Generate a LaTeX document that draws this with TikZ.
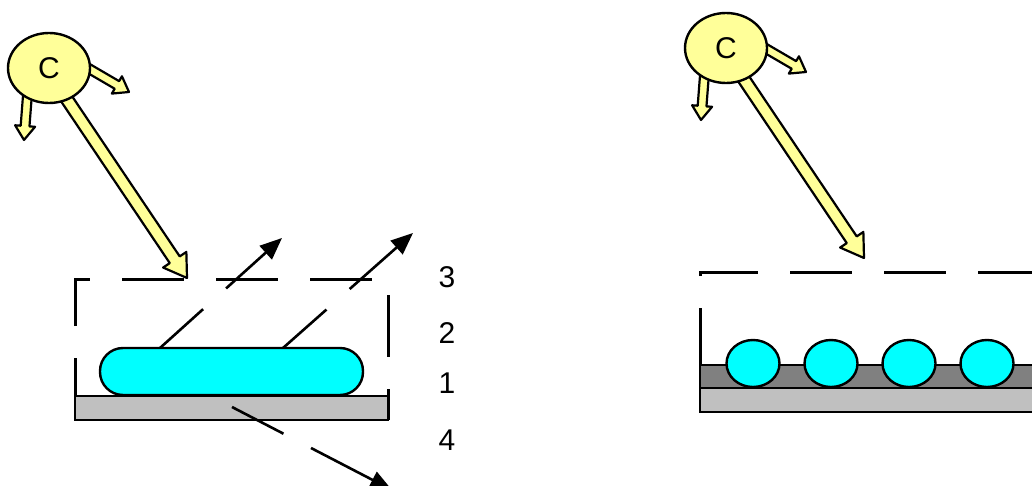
\documentclass[tikz,border=0pt]{standalone}
\usepackage{fontspec}
\setmainfont{Liberation Sans}
\usetikzlibrary{calc}
\usetikzlibrary{arrows.meta}
\usetikzlibrary{shapes.geometric}
\usetikzlibrary{backgrounds}

\definecolor{lampyellow}{HTML}{FFFF99}
\definecolor{filmcyan}{HTML}{00FFFF}
\definecolor{plategray}{HTML}{C0C0C0}
\definecolor{layergray}{HTML}{808080}

% outlined fat arrow: from, to, half shaft, half head, head length
\newcommand{\fatarrow}[5]{%
  \coordinate (fa) at ($(#2)!#5!(#1)$);
  \filldraw[ray] ($(#1)!#3!90:(#2)$) -- ($(fa)!#3!90:(#2)$) -- ($(fa)!#4!90:(#2)$) -- (#2)
    -- ($(fa)!#4!-90:(#2)$) -- ($(fa)!#3!-90:(#2)$) -- ($(#1)!#3!-90:(#2)$) -- cycle;
}

\begin{document}
\begin{tikzpicture} [x=.5pt, y=-.5pt,
  ray/.style={fill=lampyellow, draw=black, line width=1.1pt, line join=round},
  lamp/.style={ellipse, draw, fill=lampyellow, line width=1.2pt, minimum width=41pt, minimum height=35pt, inner sep=0pt, font=\fontsize{15}{18}\selectfont},
  cell/.style={line width=1.5pt, dash pattern=on 31pt off 16pt},
  emit/.style={line width=1.3pt, dash pattern=on 29pt off 15.5pt on 300pt, -{Triangle[length=11pt,width=9pt]}},
  num/.style={font=\fontsize{15}{18}\selectfont}]
\useasboundingbox (0,0) rectangle (1032,486);
\clip (0,0) rectangle (1032,486);

\node[lamp] (lampL) at (49,68) {C};
\node[lamp] (lampR) at (726,48) {C};

% rays leaving each lamp
\begin{pgfonlayer}{background}
\foreach \l in {lampL, lampR} {
  \coordinate (\l-a) at ($(\l)+(13,24)$);
  \coordinate (\l-b) at ($(\l)+(138,210)$);
  \coordinate (\l-c) at ($(\l)+(32,-4)$);
  \coordinate (\l-d) at ($(\l)+(80,24)$);
  \coordinate (\l-e) at ($(\l)+(-21,20)$);
  \coordinate (\l-f) at ($(\l)+(-25,72)$);
  \fatarrow{\l-a}{\l-b}{3pt}{7pt}{11pt}
  \fatarrow{\l-c}{\l-d}{2.2pt}{5pt}{7pt}
  \fatarrow{\l-e}{\l-f}{2.2pt}{5pt}{7pt}
}
\end{pgfonlayer}

% left cell: one long film
\draw[cell] (75,420) -- (75,279) -- (388,279) -- (388,420);
\draw[fill=plategray, line width=1.2pt] (75,396) rectangle (388,420);
\node[draw, fill=filmcyan, line width=1.2pt, rounded corners=11.5pt, minimum width=131.5pt, minimum height=23.5pt, inner sep=0pt] (filmL) at (231.5,371.5) {};

\coordinate (s1) at (160,348);  \coordinate (t1) at (282,238);
\coordinate (s2) at (283,348);  \coordinate (t2) at (413,233);
\coordinate (s3) at (232,407);  \coordinate (t3) at (392,490);
\draw[emit] (s1) -- (t1);
\draw[emit] (s2) -- (t2);
\draw[emit] (s3) -- (t3);

\node[num] (n3) at (447,277) {3};
\node[num] (n2) at (447,333) {2};
\node[num] (n1) at (447,383) {1};
\node[num] (n4) at (447,440) {4};

% right cell: grains on a layer
\draw[cell, dash phase=26pt] (700,412) -- (700,272) -- (1100,272) -- (1100,412);
\draw[fill=plategray, line width=1.2pt] (700,388) rectangle (1100,412);
\draw[fill=layergray, line width=1.2pt] (700,365) rectangle (1100,388);
\foreach \x in {0,...,3}
  \node[ellipse, draw, fill=filmcyan, line width=1.2pt, minimum width=26.5pt, minimum height=23.5pt, inner sep=0pt] (grain\x) at (753+78*\x,363.5) {};

\end{tikzpicture}
\end{document}
